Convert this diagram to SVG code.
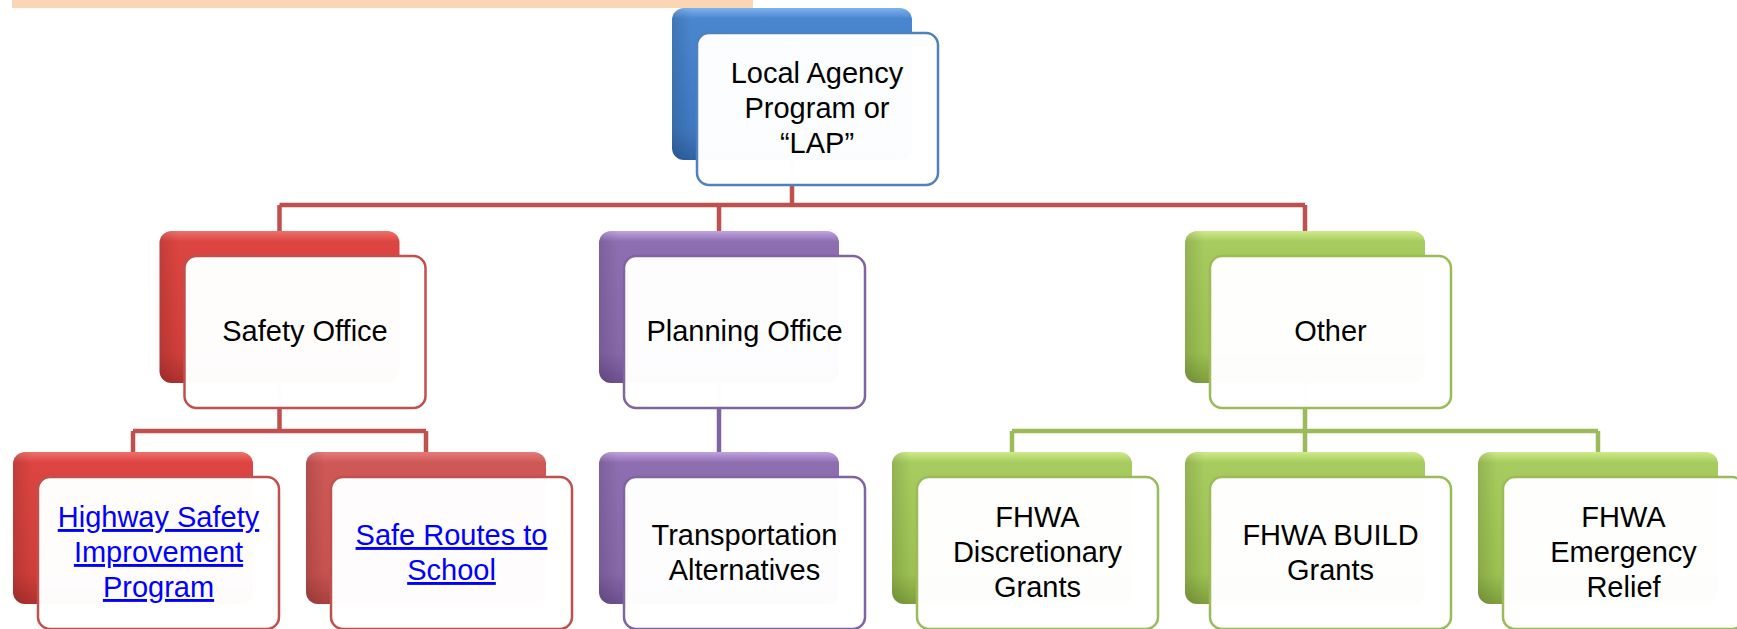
<svg xmlns="http://www.w3.org/2000/svg" width="1737" height="629" viewBox="0 0 1737 629">
<defs>
<linearGradient id="gBlue" x1="0" y1="0" x2="0" y2="1">
<stop offset="0" stop-color="#7FB2EE"/><stop offset="0.07" stop-color="#4A86CF"/><stop offset="0.8" stop-color="#3F78C0"/><stop offset="1" stop-color="#2E61A3"/>
</linearGradient>
<linearGradient id="gRed" x1="0" y1="0" x2="0" y2="1">
<stop offset="0" stop-color="#F0706A"/><stop offset="0.07" stop-color="#DC4541"/><stop offset="0.8" stop-color="#D03E3A"/><stop offset="1" stop-color="#AE302D"/>
</linearGradient>
<linearGradient id="gRed2" x1="0" y1="0" x2="0" y2="1">
<stop offset="0" stop-color="#E47C79"/><stop offset="0.07" stop-color="#CE5856"/><stop offset="0.8" stop-color="#C65250"/><stop offset="1" stop-color="#A9403E"/>
</linearGradient>
<linearGradient id="gPurple" x1="0" y1="0" x2="0" y2="1">
<stop offset="0" stop-color="#C0A2E2"/><stop offset="0.07" stop-color="#8D6EB0"/><stop offset="0.8" stop-color="#8667A8"/><stop offset="1" stop-color="#6B4F8E"/>
</linearGradient>
<linearGradient id="gGreen" x1="0" y1="0" x2="0" y2="1">
<stop offset="0" stop-color="#CDEB8A"/><stop offset="0.07" stop-color="#A7CB5E"/><stop offset="0.8" stop-color="#9CC052"/><stop offset="1" stop-color="#7E9E3C"/>
</linearGradient>
<linearGradient id="gShade" x1="0" y1="0" x2="1" y2="0">
<stop offset="0" stop-color="#000" stop-opacity="0.12"/><stop offset="0.08" stop-color="#000" stop-opacity="0"/><stop offset="1" stop-color="#000" stop-opacity="0"/>
</linearGradient>
</defs>
<style>
.back{stroke:none}
.shade{fill:url(#gShade)}
.front{fill:#FFFFFF;fill-opacity:0.985;stroke-width:2.5}
.fb{stroke:#4F81BD}
.fr{stroke:#C0504D}
.fp{stroke:#8064A2}
.fg{stroke:#9BBB59}
.t{font-family:"Liberation Sans",Arial,sans-serif;font-size:29px;fill:#000;text-anchor:middle}
.link{fill:#0000FF;text-decoration:underline}
.conn{fill:none;stroke-width:4.5}
</style>
<rect x="12" y="0" width="741" height="8" fill="#FCD5B4"/>
<g id="connectors">
<path class="conn" stroke="#C0504D" d="M792 160 V205 M279.5 205 H1305 M279.5 205 V231 M719 205 V231 M1305 205 V231"/>
<path class="conn" stroke="#C0504D" d="M279.5 383 V431 M133 431 H426 M133 431 V452 M426 431 V452"/>
<path class="conn" stroke="#8064A2" d="M719 383 V452"/>
<path class="conn" stroke="#9BBB59" d="M1305 383 V431 M1012 431 H1598 M1012 431 V452 M1305 431 V452 M1598 431 V452"/>
</g>
<g id="lap">
<rect class="back" x="672" y="8" width="240" height="152" rx="12" fill="url(#gBlue)"/>
<rect class="shade" x="672" y="8" width="240" height="152" rx="12"/>
<rect class="front fb" x="697" y="33" width="241" height="152" rx="12"/>
<text class="t" x="817" y="83">Local Agency</text>
<text class="t" x="817" y="118">Program or</text>
<text class="t" x="817" y="153">“LAP”</text>
</g>
<g id="safety">
<rect class="back" x="159.5" y="231" width="240" height="152" rx="12" fill="url(#gRed)"/>
<rect class="shade" x="159.5" y="231" width="240" height="152" rx="12"/>
<rect class="front fr" x="184.5" y="256" width="241" height="152" rx="12"/>
<text class="t" x="305" y="341">Safety Office</text>
</g>
<g id="planning">
<rect class="back" x="599" y="231" width="240" height="152" rx="12" fill="url(#gPurple)"/>
<rect class="shade" x="599" y="231" width="240" height="152" rx="12"/>
<rect class="front fp" x="624" y="256" width="241" height="152" rx="12"/>
<text class="t" x="744.5" y="341">Planning Office</text>
</g>
<g id="other">
<rect class="back" x="1185" y="231" width="240" height="152" rx="12" fill="url(#gGreen)"/>
<rect class="shade" x="1185" y="231" width="240" height="152" rx="12"/>
<rect class="front fg" x="1210" y="256" width="241" height="152" rx="12"/>
<text class="t" x="1330.5" y="341">Other</text>
</g>
<g id="hsip">
<rect class="back" x="13" y="452" width="240" height="152" rx="12" fill="url(#gRed)"/>
<rect class="shade" x="13" y="452" width="240" height="152" rx="12"/>
<rect class="front fr" x="38" y="477" width="241" height="152" rx="12"/>
<text class="t link" x="158.5" y="527">Highway Safety</text>
<text class="t link" x="158.5" y="562">Improvement</text>
<text class="t link" x="158.5" y="597">Program</text>
</g>
<g id="srts">
<rect class="back" x="306" y="452" width="240" height="152" rx="12" fill="url(#gRed2)"/>
<rect class="shade" x="306" y="452" width="240" height="152" rx="12"/>
<rect class="front fr" x="331" y="477" width="241" height="152" rx="12"/>
<text class="t link" x="451.5" y="545">Safe Routes to</text>
<text class="t link" x="451.5" y="580">School</text>
</g>
<g id="ta">
<rect class="back" x="599" y="452" width="240" height="152" rx="12" fill="url(#gPurple)"/>
<rect class="shade" x="599" y="452" width="240" height="152" rx="12"/>
<rect class="front fp" x="624" y="477" width="241" height="152" rx="12"/>
<text class="t" x="744.5" y="545">Transportation</text>
<text class="t" x="744.5" y="580">Alternatives</text>
</g>
<g id="disc">
<rect class="back" x="892" y="452" width="240" height="152" rx="12" fill="url(#gGreen)"/>
<rect class="shade" x="892" y="452" width="240" height="152" rx="12"/>
<rect class="front fg" x="917" y="477" width="241" height="152" rx="12"/>
<text class="t" x="1037.5" y="527">FHWA</text>
<text class="t" x="1037.5" y="562">Discretionary</text>
<text class="t" x="1037.5" y="597">Grants</text>
</g>
<g id="build">
<rect class="back" x="1185" y="452" width="240" height="152" rx="12" fill="url(#gGreen)"/>
<rect class="shade" x="1185" y="452" width="240" height="152" rx="12"/>
<rect class="front fg" x="1210" y="477" width="241" height="152" rx="12"/>
<text class="t" x="1330.5" y="545">FHWA BUILD</text>
<text class="t" x="1330.5" y="580">Grants</text>
</g>
<g id="emergency">
<rect class="back" x="1478" y="452" width="240" height="152" rx="12" fill="url(#gGreen)"/>
<rect class="shade" x="1478" y="452" width="240" height="152" rx="12"/>
<rect class="front fg" x="1503" y="477" width="241" height="152" rx="12"/>
<text class="t" x="1623.5" y="527">FHWA</text>
<text class="t" x="1623.5" y="562">Emergency</text>
<text class="t" x="1623.5" y="597">Relief</text>
</g>
</svg>
